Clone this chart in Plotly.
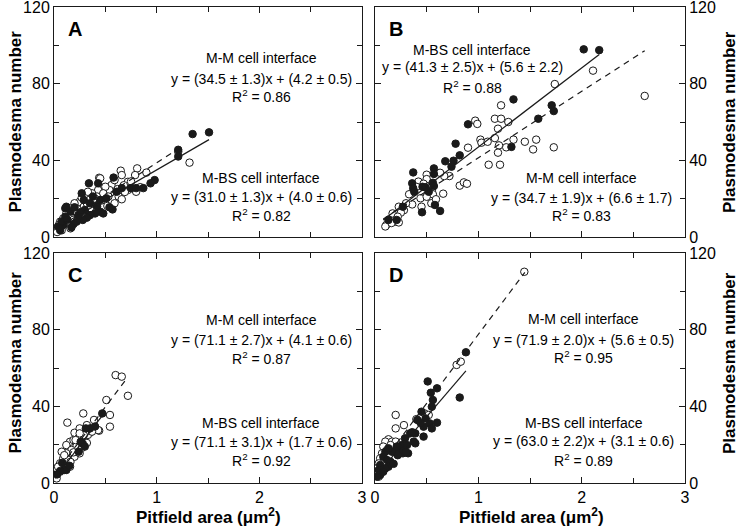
import plotly.graph_objects as go

# ---------------- data ----------------
# Panel A
a_mm_x = [1.32, 1.21, 0.81, 0.65, 0.44, 0.66, 0.79, 0.90, 0.45, 0.56, 0.54, 0.50, 0.43, 0.37, 0.31, 0.25,
          0.42, 0.48, 0.63, 0.66, 0.72, 0.80, 0.75, 0.84, 0.20, 0.15, 0.12, 0.09, 0.06, 0.04, 0.03, 0.075,
          0.29, 0.35, 0.22, 0.17, 0.32, 0.38, 0.52, 0.53, 0.59, 0.14, 0.19, 0.25, 0.33, 0.59, 0.72, 0.27,
          0.23, 0.18, 0.10, 0.35, 0.40, 0.46, 0.28, 0.16, 0.05, 0.62, 0.68, 0.75, 0.69]
a_mm_y = [38.8, 44.5, 35.8, 34.6, 30.9, 32.3, 32.3, 33.6, 30.6, 27.1, 24.5, 26.2, 24.5, 22.8, 21.1, 18.4,
          21.1, 22.8, 21.1, 19.7, 24.5, 23.6, 25.5, 26.0, 17.6, 15.0, 12.3, 9.7, 8.0, 5.4, 2.6, 3.5,
          15.8, 15.0, 12.3, 10.6, 17.6, 18.4, 16.2, 21.1, 17.6, 6.3, 9.0, 10.6, 23.6, 29.7, 28.8, 20.5,
          14.5, 13.5, 7.0, 19.5, 20.0, 19.0, 12.0, 4.5, 6.5, 25.0, 27.0, 29.0, 23.5]
a_mbs_x = [1.51, 1.35, 1.21, 1.21, 0.98, 0.94, 0.87, 0.75, 0.58, 0.43, 0.34, 0.27, 0.61, 0.54, 0.57, 0.45,
           0.40, 0.35, 0.32, 0.28, 0.22, 0.19, 0.11, 0.11, 0.16, 0.20, 0.09, 0.29, 0.35, 0.45, 0.51, 0.38,
           0.66, 0.80, 0.04, 0.075, 0.24, 0.48, 0.30, 0.13, 0.06, 0.17, 0.26, 0.42, 0.12]
a_mbs_y = [54.6, 53.7, 45.5, 42.0, 29.7, 28.0, 25.5, 25.5, 31.0, 28.0, 28.0, 22.8, 23.6, 15.5, 14.4, 13.2,
           12.3, 11.4, 10.1, 8.9, 8.0, 6.8, 10.6, 15.0, 13.2, 15.5, 6.3, 19.3, 17.6, 19.3, 20.2, 21.1,
           25.5, 25.5, 5.5, 8.0, 11.4, 12.3, 14.1, 9.0, 3.5, 5.0, 13.0, 16.0, 15.8]

# Panel B
b_mm_x = [2.11, 1.74, 2.61, 1.22, 0.97, 0.99, 1.16, 1.22, 1.19, 1.29, 1.02, 1.03, 1.09, 1.16, 1.20, 1.19,
          1.27, 1.34, 1.45, 1.56, 1.53, 1.73, 1.10, 1.21, 0.90, 0.82, 0.86, 0.89, 0.66, 0.72, 0.67, 0.63,
          0.50, 0.50, 0.42, 0.40, 0.47, 0.51, 0.55, 0.56, 0.545, 0.59, 0.44, 0.45, 0.36, 0.30, 0.23, 0.28,
          0.25, 0.17, 0.22, 0.20, 0.23, 0.15, 0.11, 0.10, 0.16, 0.33, 0.50]
b_mm_y = [86.8, 79.8, 73.6, 68.7, 60.7, 59.0, 61.7, 61.7, 56.5, 60.0, 50.8, 49.2, 49.7, 51.6, 47.8, 44.0,
          46.8, 50.8, 49.7, 50.8, 45.7, 46.8, 37.7, 37.7, 46.6, 26.8, 28.5, 27.8, 22.6, 31.8, 31.8, 33.5,
          32.5, 30.2, 28.9, 26.2, 27.8, 26.2, 24.4, 22.3, 17.6, 19.7, 20.2, 15.8, 17.0, 17.6, 15.8, 14.0,
          12.7, 12.3, 10.6, 8.0, 7.6, 8.3, 6.3, 5.5, 7.3, 22.3, 21.0]
b_mbs_x = [2.02, 2.17, 1.34, 1.71, 1.73, 1.58, 0.90, 1.32, 0.78, 0.82, 0.76, 0.68, 0.74, 0.57, 0.57, 0.37,
           0.36, 0.37, 0.38, 0.46, 0.56, 0.57, 0.455, 0.58, 0.63, 0.27, 0.21, 0.13, 0.52, 0.49]
b_mbs_y = [97.9, 97.5, 71.8, 68.7, 65.7, 61.7, 58.8, 47.0, 48.7, 42.6, 39.8, 39.5, 36.7, 35.8, 32.9, 33.7,
           28.0, 25.4, 23.6, 26.2, 28.3, 26.6, 12.9, 16.7, 13.6, 15.8, 8.9, 8.9, 23.6, 25.8]

# Panel C
c_mm_x = [0.60, 0.66, 0.72, 0.51, 0.545, 0.545, 0.13, 0.285, 0.39, 0.44, 0.35, 0.20, 0.25, 0.32, 0.38, 0.43,
          0.156, 0.12, 0.19, 0.237, 0.285, 0.22, 0.17, 0.12, 0.09, 0.14, 0.20, 0.06, 0.11, 0.026, 0.06, 0.01,
          0.026, 0.156, 0.27, 0.32, 0.25, 0.33, 0.37, 0.075, 0.29, 0.25, 0.21, 0.04, 0.10, 0.16, 0.19]
c_mm_y = [56.3, 55.5, 45.5, 43.3, 35.5, 29.4, 31.5, 36.3, 32.9, 27.3, 26.2, 26.2, 28.5, 30.2, 28.5, 27.6,
          21.5, 19.8, 22.4, 23.3, 22.4, 19.3, 17.2, 15.5, 12.9, 12.0, 13.7, 10.3, 8.9, 7.7, 5.9, 4.1,
          2.4, 8.5, 18.3, 20.9, 15.5, 25.1, 26.8, 16.3, 25.0, 25.9, 22.4, 8.5, 14.5, 11.0, 16.0]
c_mbs_x = [0.47, 0.40, 0.35, 0.31, 0.28, 0.26, 0.30, 0.24, 0.12, 0.10, 0.06, 0.03, 0.15, 0.08]
c_mbs_y = [36.3, 29.5, 28.5, 28.5, 20.5, 21.5, 19.0, 16.3, 6.8, 6.8, 6.3, 4.5, 9.0, 10.5]

# Panel D
d_mm_x = [1.445, 0.79, 0.83, 0.20, 0.20, 0.28, 0.13, 0.10, 0.165, 0.20, 0.15, 0.08, 0.116, 0.068, 0.05,
          0.08, 0.036, 0.019, 0.068, 0.036, 0.40, 0.48, 0.52]
d_mm_y = [110.2, 61.6, 63.3, 35.5, 28.5, 30.2, 22.8, 21.6, 21.6, 21.6, 19.8, 19.0, 17.2, 15.5, 12.9,
          11.1, 10.2, 7.6, 5.9, 3.3, 33.3, 36.3, 35.5]
d_mbs_x = [0.88, 0.51, 0.60, 0.54, 0.82, 0.56, 0.55, 0.45, 0.49, 0.41, 0.60, 0.53, 0.47, 0.55, 0.39, 0.47,
           0.34, 0.29, 0.375, 0.39, 0.26, 0.31, 0.28, 0.23, 0.25, 0.20, 0.21, 0.165, 0.10, 0.13, 0.08, 0.116,
           0.15, 0.13, 0.10, 0.05, 0.036, 0.05, 0.019, 0.08, 0.27, 0.32, 0.30, 0.22, 0.18, 0.44, 0.36]
d_mbs_y = [68.2, 53.0, 49.4, 47.1, 44.6, 43.3, 39.8, 37.2, 33.7, 32.9, 31.5, 31.1, 29.4, 28.5, 25.9, 24.2,
           25.9, 23.3, 21.6, 20.7, 19.8, 19.8, 17.2, 18.1, 16.8, 16.8, 19.0, 16.3, 16.3, 18.1, 13.7, 12.0,
           11.1, 8.5, 7.6, 9.4, 6.8, 4.2, 3.3, 5.9, 15.5, 15.5, 16.0, 14.5, 10.0, 31.5, 26.5]

# Regression fits: slope, intercept, x-range of the drawn line
panels = ["A", "B", "C", "D"]
mm_slope = [34.5, 34.7, 71.1, 71.9]
mm_inter = [4.2, 6.6, 4.1, 5.6]
mm_xrange = [[0.01, 1.22], [0.08, 2.61], [0.01, 0.72], [0.02, 1.45]]
mbs_slope = [31.0, 41.3, 71.1, 63.0]
mbs_inter = [4.0, 5.6, 1.7, 3.1]
mbs_xrange = [[0.01, 1.51], [0.08, 2.17], [0.01, 0.47], [0.02, 0.88]]

mm_eq = ["y = (34.5 ± 1.3)x + (4.2 ± 0.5)", "y = (34.7 ± 1.9)x + (6.6 ± 1.7)",
         "y = (71.1 ± 2.7)x + (4.1 ± 0.6)", "y = (71.9 ± 2.0)x + (5.6 ± 0.5)"]
mm_r2 = ["0.86", "0.83", "0.87", "0.95"]
mbs_eq = ["y = (31.0 ± 1.3)x + (4.0 ± 0.6)", "y = (41.3 ± 2.5)x + (5.6 ± 2.2)",
          "y = (71.1 ± 3.1)x + (1.7 ± 0.6)", "y = (63.0 ± 2.2)x + (3.1 ± 0.6)"]
mbs_r2 = ["0.82", "0.88", "0.92", "0.89"]

x_ticks = [0, 1, 2, 3]
y_ticks = [0, 40, 80, 120]
x_title = "Pitfield area (μm<sup>2</sup>)"
y_title = "Plasmodesma number"

# ---------------- figure ----------------
FONT = "Liberation Sans, Arial, Helvetica, sans-serif"
INK = "#1a1a1a"

mm_data = [(a_mm_x, a_mm_y), (b_mm_x, b_mm_y), (c_mm_x, c_mm_y), (d_mm_x, d_mm_y)]
mbs_data = [(a_mbs_x, a_mbs_y), (b_mbs_x, b_mbs_y), (c_mbs_x, c_mbs_y), (d_mbs_x, d_mbs_y)]
axis_ids = [("x", "y"), ("x2", "y2"), ("x3", "y3"), ("x4", "y4")]

fig = go.Figure()
for i in range(4):
    xa, ya = axis_ids[i]
    fig.add_trace(go.Scatter(x=mm_data[i][0], y=mm_data[i][1], mode="markers", xaxis=xa, yaxis=ya,
                             marker=dict(symbol="circle", size=7.5, color="white",
                                         line=dict(color=INK, width=1)), showlegend=False))
    fig.add_trace(go.Scatter(x=mbs_data[i][0], y=mbs_data[i][1], mode="markers", xaxis=xa, yaxis=ya,
                             marker=dict(symbol="circle", size=7.5, color=INK,
                                         line=dict(color=INK, width=1)), showlegend=False))
    xs = mm_xrange[i]
    fig.add_trace(go.Scatter(x=xs, y=[mm_slope[i] * v + mm_inter[i] for v in xs], mode="lines",
                             xaxis=xa, yaxis=ya, line=dict(color=INK, width=1.2, dash="6px,5px"),
                             showlegend=False))
    xs = mbs_xrange[i]
    fig.add_trace(go.Scatter(x=xs, y=[mbs_slope[i] * v + mbs_inter[i] for v in xs], mode="lines",
                             xaxis=xa, yaxis=ya, line=dict(color=INK, width=1.2),
                             showlegend=False))

# geometry (margins in px)
L, R, T, B = 54, 55, 7, 48
W, H = 740, 531
pw, ph = W - L - R, H - T - B
xdom_left = [0, (362 - L) / pw]
xdom_right = [(375 - L) / pw, 1]
ydom_top = [(H - B - 237) / ph, 1]
ydom_bot = [0, (H - B - 253) / ph]


def xax(domain, anchor, labels):
    return dict(domain=domain, anchor=anchor, range=[0, 3], tickvals=x_ticks,
                ticktext=[str(v) for v in x_ticks], showticklabels=labels, automargin=False,
                ticklabeloverflow="allow",
                ticks="inside", ticklen=6, tickwidth=1, tickcolor=INK,
                showline=True, linecolor=INK, linewidth=1, mirror="allticks",
                showgrid=False, zeroline=False,
                minor=dict(ticks="inside", tickvals=[0.5, 1.5, 2.5], ticklen=5, tickcolor=INK, showgrid=False),
                tickfont=dict(size=16, color="black"))


def yax(domain, anchor, side):
    return dict(domain=domain, anchor=anchor, range=[0, 120], tickvals=y_ticks,
                ticktext=[str(v) for v in y_ticks], side=side, automargin=False,
                ticklabeloverflow="allow",
                ticks="inside", ticklen=6, tickwidth=1, tickcolor=INK,
                showline=True, linecolor=INK, linewidth=1, mirror="allticks",
                showgrid=False, zeroline=False,
                minor=dict(ticks="inside", tickvals=[20, 60, 100], ticklen=5, tickcolor=INK, showgrid=False),
                tickfont=dict(size=16, color="black"))


fig.update_layout(
    template="none",
    width=W, height=H, margin=dict(l=L, r=R, t=T, b=B, autoexpand=False),
    paper_bgcolor="white", plot_bgcolor="white",
    font=dict(family=FONT, color="black"),
    xaxis=xax(xdom_left, "y", False), yaxis=yax(ydom_top, "x", "left"),
    xaxis2=xax(xdom_right, "y2", False), yaxis2=yax(ydom_top, "x2", "right"),
    xaxis3=xax(xdom_left, "y3", True), yaxis3=yax(ydom_bot, "x3", "left"),
    xaxis4=xax(xdom_right, "y4", True), yaxis4=yax(ydom_bot, "x4", "right"),
)

ann = []
# panel letters
for i in range(4):
    xa, ya = axis_ids[i]
    ann.append(dict(text="<b>%s</b>" % panels[i], xref=xa + " domain", yref=ya + " domain",
                    x=0.04, y=0.96, xanchor="left", yanchor="top", showarrow=False,
                    font=dict(size=20, color="black")))

# equation blocks: (panel, which, x-centre, y for header/eq/R2)
blocks = [
    (0, "mm", 2.02, [93.4, 82.4, 73.6]), (0, "mbs", 2.02, [30.8, 20.9, 11.5]),
    (1, "mbs", 0.94, [97.5, 88.7, 78.2]), (1, "mm", 2.0, [30.8, 20.3, 11.5]),
    (2, "mm", 2.02, [85.0, 74.6, 65.2]), (2, "mbs", 2.02, [31.3, 21.5, 12.0]),
    (3, "mm", 2.02, [85.5, 74.6, 65.7]), (3, "mbs", 2.02, [31.3, 21.9, 12.0]),
]
for p, which, xc, ys in blocks:
    xa, ya = axis_ids[p]
    if which == "mm":
        lines = ["M-M cell interface", mm_eq[p], "R<sup>2</sup> = " + mm_r2[p]]
    else:
        lines = ["M-BS cell interface", mbs_eq[p], "R<sup>2</sup> = " + mbs_r2[p]]
    for txt, yy in zip(lines, ys):
        ann.append(dict(text=txt, xref=xa, yref=ya, x=xc, y=yy, xanchor="center", yanchor="middle",
                        showarrow=False, font=dict(size=14, color="black")))

# axis titles
for yc in [(H - B - 122) / ph, (H - B - 363) / ph]:
    ann.append(dict(text="<b>%s</b>" % y_title, xref="paper", yref="paper", x=(14.5 - L) / pw, y=yc,
                    textangle=-90, showarrow=False, xanchor="center", yanchor="middle",
                    font=dict(size=17, color="black")))
    ann.append(dict(text="<b>%s</b>" % y_title, xref="paper", yref="paper", x=(729 - L) / pw, y=yc,
                    textangle=-90, showarrow=False, xanchor="center", yanchor="middle",
                    font=dict(size=17, color="black")))
for xc in [(208 - L) / pw, (531 - L) / pw]:
    ann.append(dict(text="<b>%s</b>" % x_title, xref="paper", yref="paper", x=xc, y=(H - B - 516) / ph,
                    showarrow=False, xanchor="center", yanchor="middle",
                    font=dict(size=17, color="black")))

fig.update_layout(annotations=ann)
fig.write_html("out.html", config={"displayModeBar": False},
               post_script="document.body.style.margin='0px';document.body.style.padding='0px';"
                           "document.body.style.overflow='hidden';")
